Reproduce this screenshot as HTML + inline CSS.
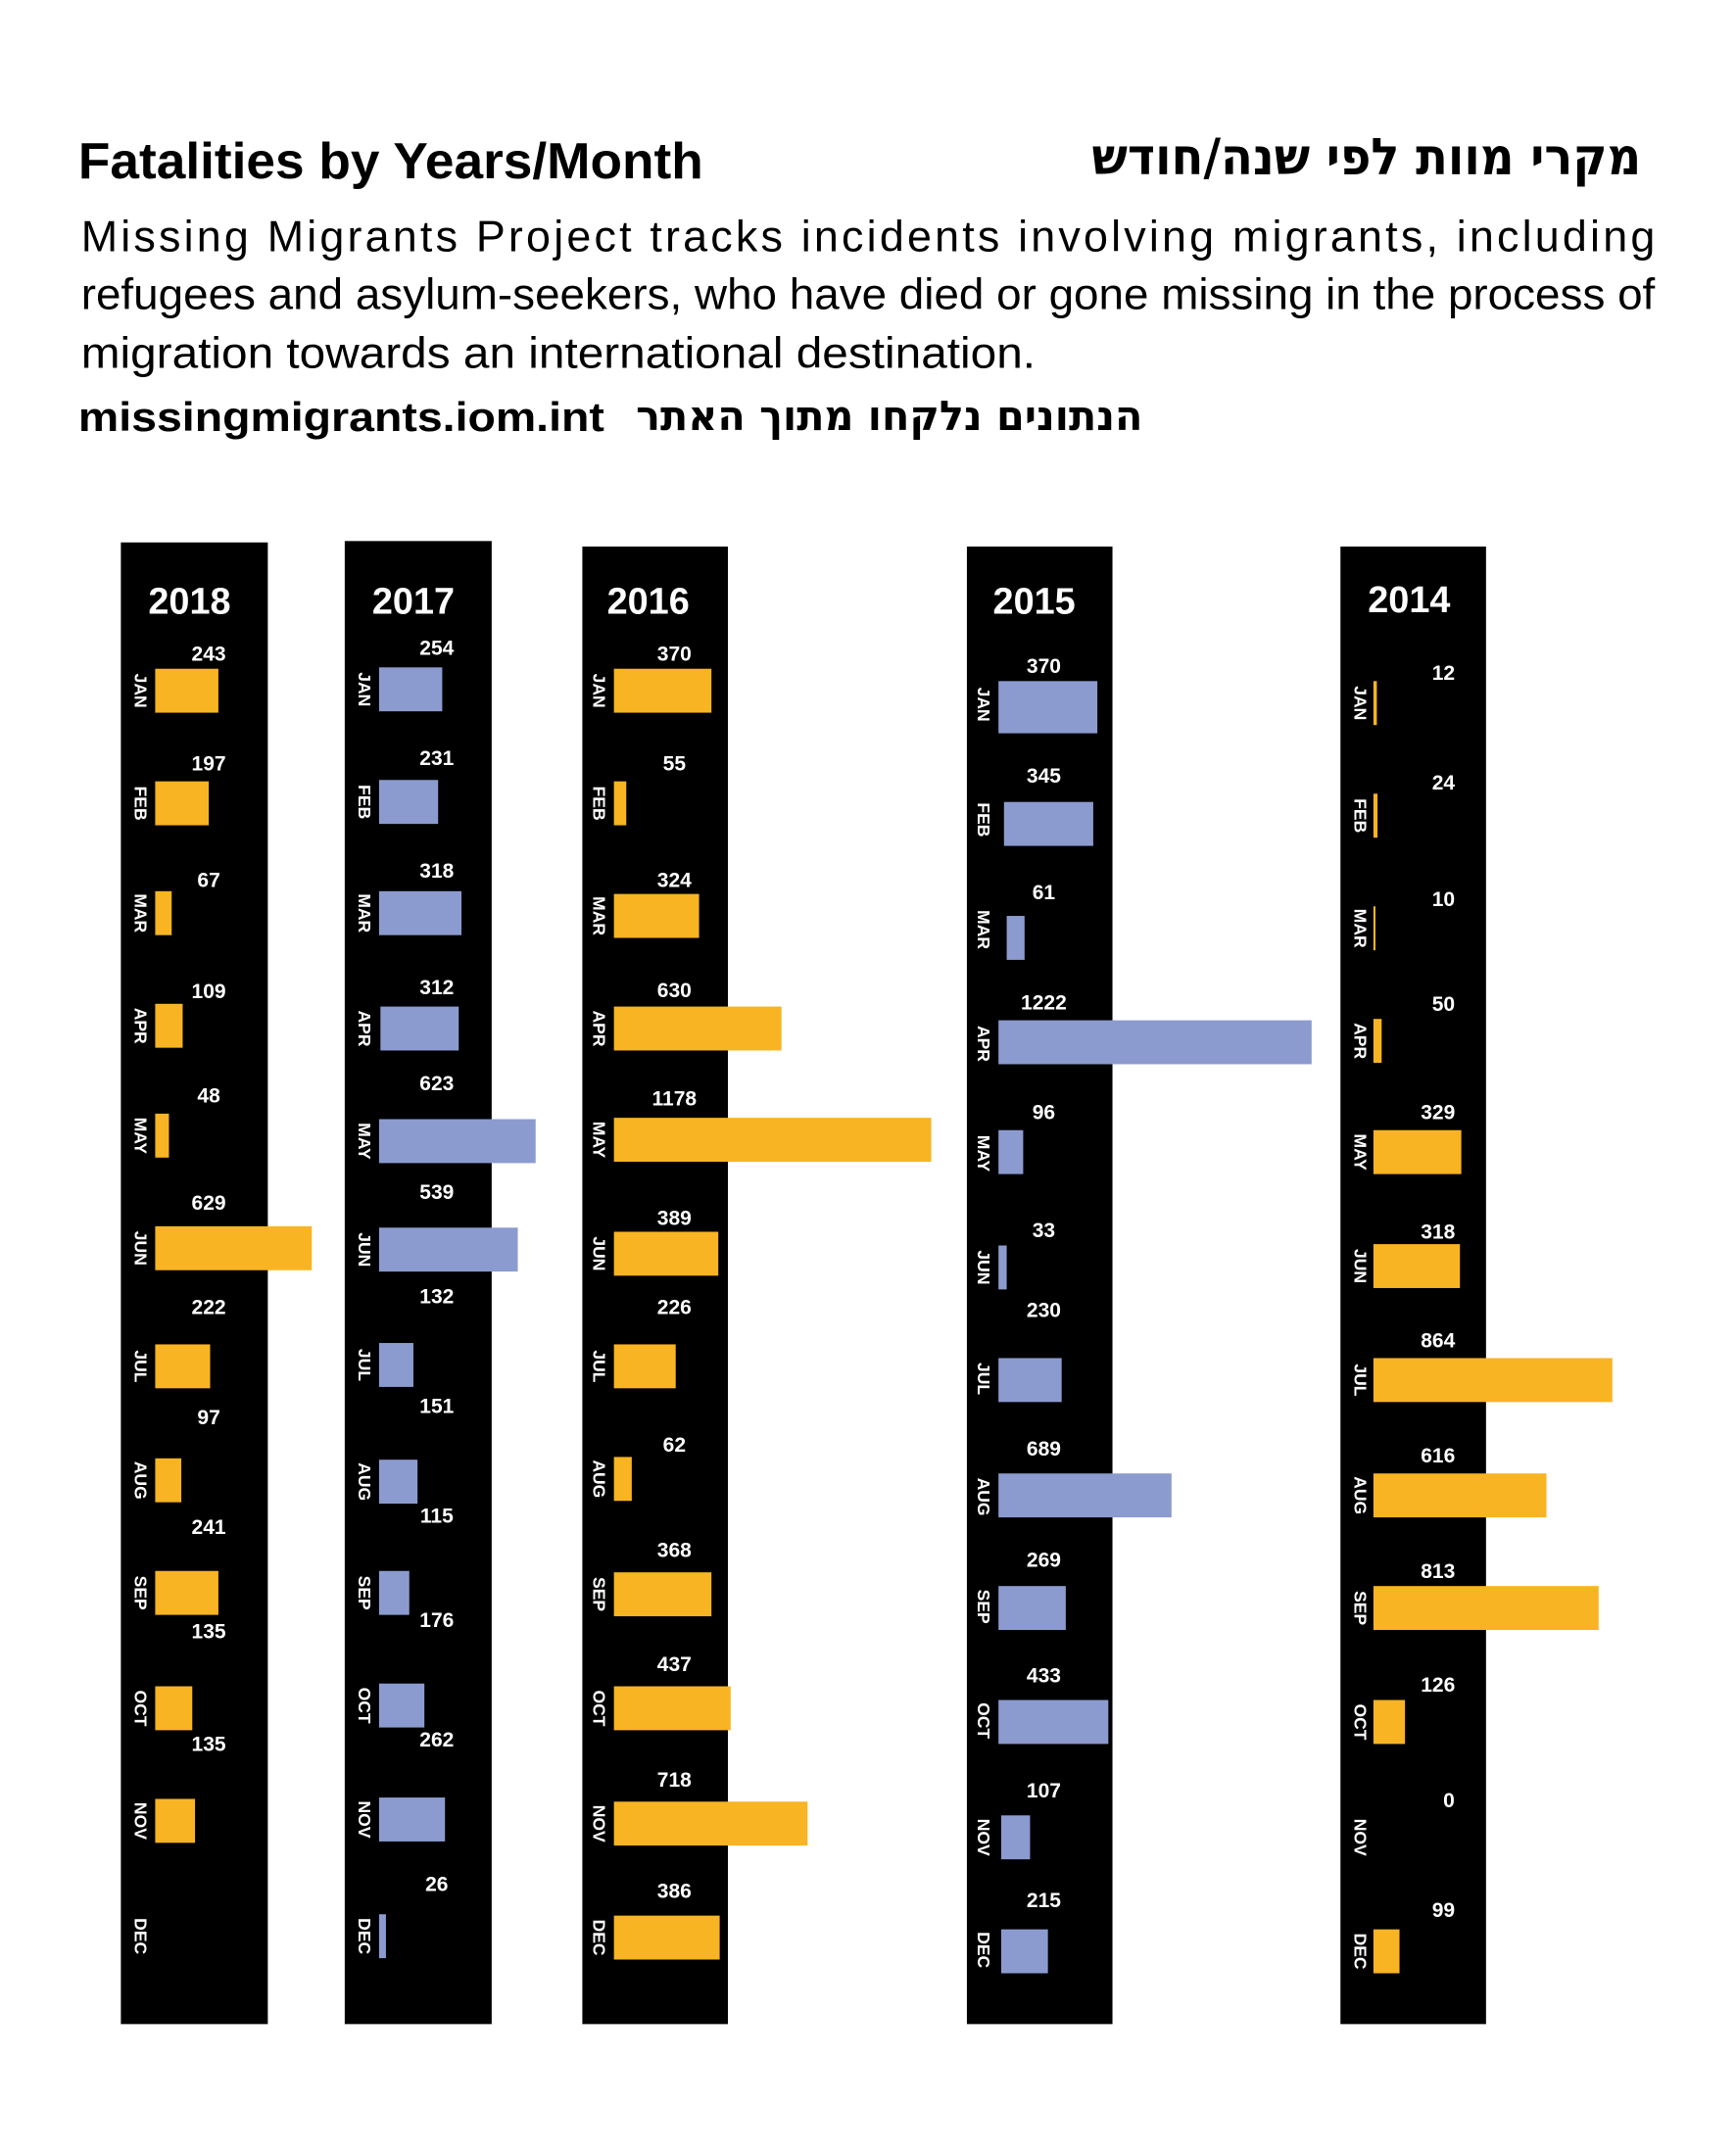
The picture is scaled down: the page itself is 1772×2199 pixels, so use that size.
<!DOCTYPE html>
<html><head><meta charset="utf-8"><style>
html,body{margin:0;padding:0;background:#fff;}
svg{display:block;}
text{font-family:"Liberation Sans","DejaVu Sans",sans-serif;}
.yr{font-size:27px;font-weight:bold;fill:#fff;text-anchor:middle;}
.v{font-size:15px;font-weight:bold;fill:#fff;text-anchor:middle;}
.m{font-size:12.5px;font-weight:bold;fill:#fff;text-anchor:middle;}
.o{fill:#F8B422;}
.b{fill:#8C9BCF;}
</style></head><body>
<svg width="1772" height="2199" viewBox="0 0 1264 1568.6" xmlns="http://www.w3.org/2000/svg">
<rect width="1264" height="1568.6" fill="#fff"/>
<text x="57" y="130" font-size="37" font-weight="bold" textLength="455" lengthAdjust="spacingAndGlyphs">Fatalities by Years/Month</text>
<text x="1195" y="127" font-size="37" font-weight="bold" text-anchor="start" direction="rtl" textLength="400" lengthAdjust="spacingAndGlyphs" style='font-family:"DejaVu Sans",sans-serif'>מקרי מוות לפי שנה/חודש</text>
<text x="59" y="183" font-size="32" textLength="1146" lengthAdjust="spacing">Missing  Migrants  Project  tracks  incidents  involving  migrants,  including</text>
<text x="59" y="225" font-size="32" textLength="1146" lengthAdjust="spacingAndGlyphs">refugees and asylum-seekers, who have died or gone missing in the process of</text>
<text x="59" y="268" font-size="32" textLength="695" lengthAdjust="spacingAndGlyphs">migration towards an international destination.</text>
<text x="57" y="314" font-size="30" font-weight="bold" textLength="383" lengthAdjust="spacingAndGlyphs">missingmigrants.iom.int</text>
<text x="832" y="313" font-size="30" font-weight="bold" text-anchor="start" direction="rtl" textLength="369" lengthAdjust="spacingAndGlyphs" style='font-family:"DejaVu Sans",sans-serif'>הנתונים נלקחו מתוך האתר</text>

<!-- panels -->
<rect x="88" y="395" width="107" height="1079" fill="#000"/>
<rect x="251" y="394" width="107" height="1080" fill="#000"/>
<rect x="424" y="398" width="106" height="1076" fill="#000"/>
<rect x="704" y="398" width="106" height="1076" fill="#000"/>
<rect x="976" y="398" width="106" height="1076" fill="#000"/>
<text class="yr" x="138" y="447">2018</text>
<text class="yr" x="301" y="447">2017</text>
<text class="yr" x="472" y="447">2016</text>
<text class="yr" x="753" y="447">2015</text>
<text class="yr" x="1026" y="446">2014</text>

<!-- 2018 -->
<g class="o">
<rect x="113" y="487" width="46" height="32"/><rect x="113" y="569" width="39" height="32"/>
<rect x="113" y="649" width="12" height="32"/><rect x="113" y="731" width="20" height="32"/>
<rect x="113" y="811" width="10" height="32"/><rect x="113" y="893" width="114" height="32"/>
<rect x="113" y="979" width="40" height="32"/><rect x="113" y="1062" width="19" height="32"/>
<rect x="113" y="1144" width="46" height="32"/><rect x="113" y="1228" width="27" height="32"/>
<rect x="113" y="1310" width="29" height="32"/>
</g>
<g>
<text class="v" x="152" y="481">243</text><text class="v" x="152" y="561">197</text>
<text class="v" x="152" y="646">67</text><text class="v" x="152" y="727">109</text>
<text class="v" x="152" y="803">48</text><text class="v" x="152" y="881">629</text>
<text class="v" x="152" y="957">222</text><text class="v" x="152" y="1037">97</text>
<text class="v" x="152" y="1117">241</text><text class="v" x="152" y="1193">135</text>
<text class="v" x="152" y="1275">135</text>
</g>
<g>
<text class="m" transform="translate(98,503) rotate(90)">JAN</text>
<text class="m" transform="translate(98,585) rotate(90)">FEB</text>
<text class="m" transform="translate(98,665) rotate(90)">MAR</text>
<text class="m" transform="translate(98,747) rotate(90)">APR</text>
<text class="m" transform="translate(98,827) rotate(90)">MAY</text>
<text class="m" transform="translate(98,909) rotate(90)">JUN</text>
<text class="m" transform="translate(98,995) rotate(90)">JUL</text>
<text class="m" transform="translate(98,1078) rotate(90)">AUG</text>
<text class="m" transform="translate(98,1160) rotate(90)">SEP</text>
<text class="m" transform="translate(98,1244) rotate(90)">OCT</text>
<text class="m" transform="translate(98,1326) rotate(90)">NOV</text>
<text class="m" transform="translate(98,1410) rotate(90)">DEC</text>
</g>

<!-- 2017 -->
<g class="b">
<rect x="276" y="486" width="46" height="32"/><rect x="276" y="568" width="43" height="32"/>
<rect x="276" y="649" width="60" height="32"/><rect x="277" y="733" width="57" height="32"/>
<rect x="276" y="815" width="114" height="32"/><rect x="276" y="894" width="101" height="32"/>
<rect x="276" y="978" width="25" height="32"/><rect x="276" y="1063" width="28" height="32"/>
<rect x="276" y="1144" width="22" height="32"/><rect x="276" y="1226" width="33" height="32"/>
<rect x="276" y="1309" width="48" height="32"/><rect x="276" y="1394" width="5" height="32"/>
</g>
<g>
<text class="v" x="318" y="477">254</text><text class="v" x="318" y="557">231</text>
<text class="v" x="318" y="639">318</text><text class="v" x="318" y="724">312</text>
<text class="v" x="318" y="794">623</text><text class="v" x="318" y="873">539</text>
<text class="v" x="318" y="949">132</text><text class="v" x="318" y="1029">151</text>
<text class="v" x="318" y="1109">115</text><text class="v" x="318" y="1185">176</text>
<text class="v" x="318" y="1272">262</text><text class="v" x="318" y="1377">26</text>
</g>
<g>
<text class="m" transform="translate(261,502) rotate(90)">JAN</text>
<text class="m" transform="translate(261,584) rotate(90)">FEB</text>
<text class="m" transform="translate(261,665) rotate(90)">MAR</text>
<text class="m" transform="translate(261,749) rotate(90)">APR</text>
<text class="m" transform="translate(261,831) rotate(90)">MAY</text>
<text class="m" transform="translate(261,910) rotate(90)">JUN</text>
<text class="m" transform="translate(261,994) rotate(90)">JUL</text>
<text class="m" transform="translate(261,1079) rotate(90)">AUG</text>
<text class="m" transform="translate(261,1160) rotate(90)">SEP</text>
<text class="m" transform="translate(261,1242) rotate(90)">OCT</text>
<text class="m" transform="translate(261,1325) rotate(90)">NOV</text>
<text class="m" transform="translate(261,1410) rotate(90)">DEC</text>
</g>

<!-- 2016 -->
<g class="o">
<rect x="447" y="487" width="71" height="32"/><rect x="447" y="569" width="9" height="32"/>
<rect x="447" y="651" width="62" height="32"/><rect x="447" y="733" width="122" height="32"/>
<rect x="447" y="814" width="231" height="32"/><rect x="447" y="897" width="76" height="32"/>
<rect x="447" y="979" width="45" height="32"/><rect x="447" y="1061" width="13" height="32"/>
<rect x="447" y="1145" width="71" height="32"/><rect x="447" y="1228" width="85" height="32"/>
<rect x="447" y="1312" width="141" height="32"/><rect x="447" y="1395" width="77" height="32"/>
</g>
<g>
<text class="v" x="491" y="481">370</text><text class="v" x="491" y="561">55</text>
<text class="v" x="491" y="646">324</text><text class="v" x="491" y="726">630</text>
<text class="v" x="491" y="805">1178</text><text class="v" x="491" y="892">389</text>
<text class="v" x="491" y="957">226</text><text class="v" x="491" y="1057">62</text>
<text class="v" x="491" y="1134">368</text><text class="v" x="491" y="1217">437</text>
<text class="v" x="491" y="1301">718</text><text class="v" x="491" y="1382">386</text>
</g>
<g>
<text class="m" transform="translate(432,503) rotate(90)">JAN</text>
<text class="m" transform="translate(432,585) rotate(90)">FEB</text>
<text class="m" transform="translate(432,667) rotate(90)">MAR</text>
<text class="m" transform="translate(432,749) rotate(90)">APR</text>
<text class="m" transform="translate(432,830) rotate(90)">MAY</text>
<text class="m" transform="translate(432,913) rotate(90)">JUN</text>
<text class="m" transform="translate(432,995) rotate(90)">JUL</text>
<text class="m" transform="translate(432,1077) rotate(90)">AUG</text>
<text class="m" transform="translate(432,1161) rotate(90)">SEP</text>
<text class="m" transform="translate(432,1244) rotate(90)">OCT</text>
<text class="m" transform="translate(432,1328) rotate(90)">NOV</text>
<text class="m" transform="translate(432,1411) rotate(90)">DEC</text>
</g>

<!-- 2015 -->
<g class="b">
<rect x="727" y="496" width="72" height="38"/><rect x="731" y="584" width="65" height="32"/>
<rect x="733" y="667" width="13" height="32"/><rect x="727" y="743" width="228" height="32"/>
<rect x="727" y="823" width="18" height="32"/><rect x="727" y="907" width="6" height="32"/>
<rect x="727" y="989" width="46" height="32"/><rect x="727" y="1073" width="126" height="32"/>
<rect x="727" y="1155" width="49" height="32"/><rect x="727" y="1238" width="80" height="32"/>
<rect x="729" y="1322" width="21" height="32"/><rect x="729" y="1405" width="34" height="32"/>
</g>
<g>
<text class="v" x="760" y="490">370</text><text class="v" x="760" y="570">345</text>
<text class="v" x="760" y="655">61</text><text class="v" x="760" y="735">1222</text>
<text class="v" x="760" y="815">96</text><text class="v" x="760" y="901">33</text>
<text class="v" x="760" y="959">230</text><text class="v" x="760" y="1060">689</text>
<text class="v" x="760" y="1141">269</text><text class="v" x="760" y="1225">433</text>
<text class="v" x="760" y="1309">107</text><text class="v" x="760" y="1389">215</text>
</g>
<g>
<text class="m" transform="translate(712,513) rotate(90)">JAN</text>
<text class="m" transform="translate(712,597) rotate(90)">FEB</text>
<text class="m" transform="translate(712,677) rotate(90)">MAR</text>
<text class="m" transform="translate(712,760) rotate(90)">APR</text>
<text class="m" transform="translate(712,840) rotate(90)">MAY</text>
<text class="m" transform="translate(712,923) rotate(90)">JUN</text>
<text class="m" transform="translate(712,1004) rotate(90)">JUL</text>
<text class="m" transform="translate(712,1090) rotate(90)">AUG</text>
<text class="m" transform="translate(712,1170) rotate(90)">SEP</text>
<text class="m" transform="translate(712,1253) rotate(90)">OCT</text>
<text class="m" transform="translate(712,1338) rotate(90)">NOV</text>
<text class="m" transform="translate(712,1420) rotate(90)">DEC</text>
</g>

<!-- 2014 -->
<g class="o">
<rect x="1000" y="496" width="2.5" height="32"/><rect x="1000" y="578" width="3" height="32"/>
<rect x="1000" y="660" width="1.5" height="32"/><rect x="1000" y="742" width="6" height="32"/>
<rect x="1000" y="823" width="64" height="32"/><rect x="1000" y="906" width="63" height="32"/>
<rect x="1000" y="989" width="174" height="32"/><rect x="1000" y="1073" width="126" height="32"/>
<rect x="1000" y="1155" width="164" height="32"/><rect x="1000" y="1238" width="23" height="32"/>
<rect x="1000" y="1405" width="19" height="32"/>
</g>
<g>
<text class="v" x="1051" y="495">12</text><text class="v" x="1051" y="575">24</text>
<text class="v" x="1051" y="660">10</text><text class="v" x="1051" y="736">50</text>
<text class="v" x="1047" y="815">329</text><text class="v" x="1047" y="902">318</text>
<text class="v" x="1047" y="981">864</text><text class="v" x="1047" y="1065">616</text>
<text class="v" x="1047" y="1149">813</text><text class="v" x="1047" y="1232">126</text>
<text class="v" x="1055" y="1316">0</text><text class="v" x="1051" y="1396">99</text>
</g>
<g>
<text class="m" transform="translate(986,512) rotate(90)">JAN</text>
<text class="m" transform="translate(986,594) rotate(90)">FEB</text>
<text class="m" transform="translate(986,676) rotate(90)">MAR</text>
<text class="m" transform="translate(986,758) rotate(90)">APR</text>
<text class="m" transform="translate(986,839) rotate(90)">MAY</text>
<text class="m" transform="translate(986,922) rotate(90)">JUN</text>
<text class="m" transform="translate(986,1005) rotate(90)">JUL</text>
<text class="m" transform="translate(986,1089) rotate(90)">AUG</text>
<text class="m" transform="translate(986,1171) rotate(90)">SEP</text>
<text class="m" transform="translate(986,1254) rotate(90)">OCT</text>
<text class="m" transform="translate(986,1338) rotate(90)">NOV</text>
<text class="m" transform="translate(986,1421) rotate(90)">DEC</text>
</g>
</svg>
</body></html>
